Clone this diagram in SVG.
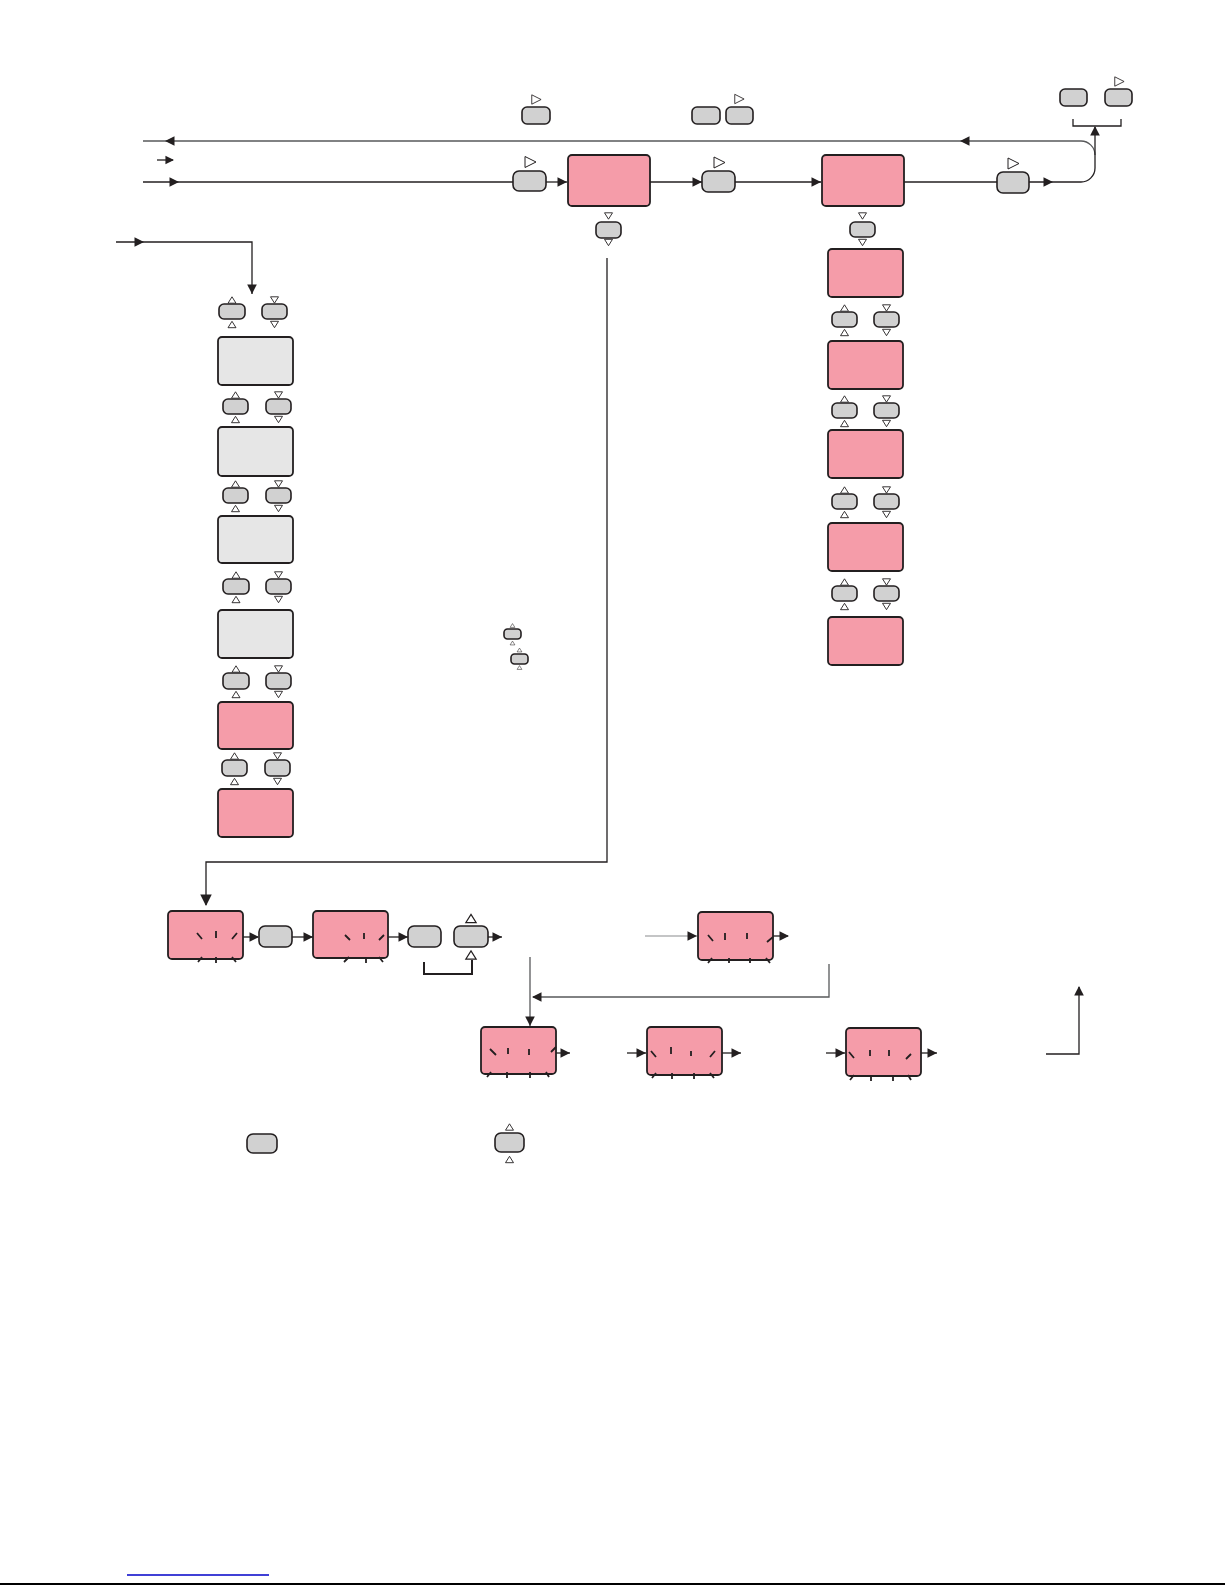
<svg xmlns="http://www.w3.org/2000/svg" xmlns:xlink="http://www.w3.org/1999/xlink" width="1225" height="1585" viewBox="0 0 1225 1585">
<style>
.pk{fill:#f59ca9;stroke:#231f20;stroke-width:1.8}
.gy{fill:#e6e6e6;stroke:#231f20;stroke-width:1.8}
.bt{fill:#d1d1d1;stroke:#231f20;stroke-width:1.6}
.ln{fill:none;stroke:#231f20;stroke-width:1.3}
.lg{fill:none;stroke:#58595b;stroke-width:1.3}
.lt{fill:none;stroke:#8a8b8d;stroke-width:1.2}
.tk{fill:none;stroke:#231f20;stroke-width:1.8}
.br{fill:none;stroke:#231f20;stroke-width:2}
</style>
<defs>
<path id="tu" d="M0,-3.2 L4,3.2 L-4,3.2 Z" fill="#fff" stroke="#231f20" stroke-width="0.9"/>
<path id="td" d="M-4,-3.2 L4,-3.2 L0,3.2 Z" fill="#fff" stroke="#231f20" stroke-width="0.9"/>
<path id="tr" d="M-5,-5.5 L6,0 L-5,5.5 Z" fill="#fff" stroke="#231f20" stroke-width="1"/>
<path id="ah" d="M0,0 L-9.5,-4.8 L-9.5,4.8 Z" fill="#231f20"/>
</defs>

<g id="connectors">
  <path class="lg" d="M143,141 H1081 A14,14 0 0 1 1095,155"/>
  <path class="ln" d="M1029,182 H1081 A14,14 0 0 0 1095,168 V127"/>
  <path class="ln" d="M143,182 H513"/>
  <path class="ln" d="M546,182 H567"/>
  <path class="ln" d="M650,182 H702"/>
  <path class="ln" d="M735,182 H821"/>
  <path class="ln" d="M904,182 H997"/>
  <path class="ln" d="M157,160 H173"/>
  <path class="ln" d="M116,242 H252 V294"/>
  <path class="ln" d="M607,258 V862 H206 V905"/>
  <path class="ln" d="M1073,119 V126 H1121 V119"/>
  <path class="br" d="M424,962 V974 H472 V960"/>
  <path class="ln" d="M243,937 H258"/>
  <path class="ln" d="M292,937 H313"/>
  <path class="ln" d="M388,937 H408"/>
  <path class="ln" d="M488,937 H502"/>
  <path class="lt" d="M645,936 H697"/>
  <path class="ln" d="M773,936 H788"/>
  <path class="lg" d="M829,964 V997 H533"/>
  <path class="lg" d="M530,957 V1026"/>
  <path class="ln" d="M556,1053 H570"/>
  <path class="ln" d="M627,1053 H646"/>
  <path class="ln" d="M722,1053 H741"/>
  <path class="ln" d="M826,1053 H845"/>
  <path class="ln" d="M921,1053 H937"/>
  <path class="ln" d="M1046,1054 H1079 V987"/>
  <use xlink:href="#ah" transform="translate(165,141) rotate(180)"/>
  <use xlink:href="#ah" transform="translate(960,141) rotate(180)"/>
  <use xlink:href="#ah" transform="translate(1095,126) rotate(-90)"/>
  <use xlink:href="#ah" transform="translate(1053,182)"/>
  <use xlink:href="#ah" transform="translate(179,182)"/>
  <use xlink:href="#ah" transform="translate(174,160) scale(0.9)"/>
  <use xlink:href="#ah" transform="translate(567,182)"/>
  <use xlink:href="#ah" transform="translate(702,182)"/>
  <use xlink:href="#ah" transform="translate(821,182)"/>
  <use xlink:href="#ah" transform="translate(144,242)"/>
  <use xlink:href="#ah" transform="translate(252,294) rotate(90)"/>
  <use xlink:href="#ah" transform="translate(206,906) rotate(90) scale(1.2)"/>
  <use xlink:href="#ah" transform="translate(259,937)"/>
  <use xlink:href="#ah" transform="translate(313,937)"/>
  <use xlink:href="#ah" transform="translate(408,937)"/>
  <use xlink:href="#ah" transform="translate(502,937)"/>
  <use xlink:href="#ah" transform="translate(697,936)"/>
  <use xlink:href="#ah" transform="translate(789,936)"/>
  <use xlink:href="#ah" transform="translate(532,997) rotate(180)"/>
  <use xlink:href="#ah" transform="translate(530,1026) rotate(90)"/>
  <use xlink:href="#ah" transform="translate(570,1053)"/>
  <use xlink:href="#ah" transform="translate(646,1053)"/>
  <use xlink:href="#ah" transform="translate(741,1053)"/>
  <use xlink:href="#ah" transform="translate(845,1053)"/>
  <use xlink:href="#ah" transform="translate(937,1053)"/>
  <use xlink:href="#ah" transform="translate(1079,986) rotate(-90)"/>
</g>

<!-- top row buttons -->
<g id="btn-top1"><rect class="bt" x="522" y="107" width="28" height="17" rx="5"/><use xlink:href="#tr" transform="translate(536,99.5) scale(0.85)"/></g>
<g id="btn-top2"><rect class="bt" x="692" y="107" width="28" height="17" rx="5"/><rect class="bt" x="726" y="107" width="27" height="17" rx="5"/><use xlink:href="#tr" transform="translate(739,99) scale(0.85)"/></g>
<g id="btn-top3"><rect class="bt" x="1060" y="89" width="27" height="17" rx="5"/><rect class="bt" x="1105" y="89" width="27" height="17" rx="5"/><use xlink:href="#tr" transform="translate(1119,81.5) scale(0.85)"/></g>

<!-- main row -->
<g id="btn-m1"><rect class="bt" x="513" y="171" width="33" height="20" rx="6"/><use xlink:href="#tr" transform="translate(530,162)"/></g>
<g id="box-m1"><rect class="pk" x="568" y="155" width="82" height="51" rx="4"/></g>
<g id="btn-m2"><rect class="bt" x="702" y="171" width="33" height="21" rx="6"/><use xlink:href="#tr" transform="translate(719,162.5)"/></g>
<g id="box-m2"><rect class="pk" x="822" y="155" width="82" height="51" rx="4"/></g>
<g id="btn-m3"><rect class="bt" x="997" y="172" width="32" height="21" rx="6"/><use xlink:href="#tr" transform="translate(1013,163.5)"/></g>
<g id="btn-d1"><rect class="bt" x="596" y="222" width="25" height="16" rx="5"/><use xlink:href="#td" transform="translate(608.5,216)"/><use xlink:href="#td" transform="translate(608.5,242.5)"/></g>
<g id="btn-d2"><rect class="bt" x="850" y="222" width="25" height="15" rx="5"/><use xlink:href="#td" transform="translate(862.5,216)"/><use xlink:href="#td" transform="translate(862.5,242.5)"/></g>

<!-- left column -->
<g id="lp1"><rect class="bt" x="219" y="304" width="26" height="15" rx="5"/><rect class="bt" x="262" y="304" width="25" height="15" rx="5"/><use xlink:href="#tu" transform="translate(232,300)"/><use xlink:href="#tu" transform="translate(232,324.5)"/><use xlink:href="#td" transform="translate(274.5,300)"/><use xlink:href="#td" transform="translate(274.5,324.5)"/></g>
<g id="lb1"><rect class="gy" x="218" y="337" width="75" height="48" rx="4"/></g>
<g id="lp2"><rect class="bt" x="223" y="399" width="25" height="15" rx="5"/><rect class="bt" x="266" y="399" width="25" height="15" rx="5"/><use xlink:href="#tu" transform="translate(235.5,395)"/><use xlink:href="#tu" transform="translate(235.5,419.5)"/><use xlink:href="#td" transform="translate(278.5,395)"/><use xlink:href="#td" transform="translate(278.5,419.5)"/></g>
<g id="lb2"><rect class="gy" x="218" y="427" width="75" height="49" rx="4"/></g>
<g id="lp3"><rect class="bt" x="223" y="488" width="25" height="15" rx="5"/><rect class="bt" x="266" y="488" width="25" height="15" rx="5"/><use xlink:href="#tu" transform="translate(235.5,484)"/><use xlink:href="#tu" transform="translate(235.5,508.5)"/><use xlink:href="#td" transform="translate(278.5,484)"/><use xlink:href="#td" transform="translate(278.5,508.5)"/></g>
<g id="lb3"><rect class="gy" x="218" y="516" width="75" height="47" rx="4"/></g>
<g id="lp4"><rect class="bt" x="223" y="579" width="26" height="15" rx="5"/><rect class="bt" x="266" y="579" width="25" height="15" rx="5"/><use xlink:href="#tu" transform="translate(236,575)"/><use xlink:href="#tu" transform="translate(236,599.5)"/><use xlink:href="#td" transform="translate(278.5,575)"/><use xlink:href="#td" transform="translate(278.5,599.5)"/></g>
<g id="lb4"><rect class="gy" x="218" y="610" width="75" height="48" rx="4"/></g>
<g id="lp5"><rect class="bt" x="223" y="673" width="26" height="16" rx="5"/><rect class="bt" x="266" y="673" width="25" height="16" rx="5"/><use xlink:href="#tu" transform="translate(236,669)"/><use xlink:href="#tu" transform="translate(236,694.5)"/><use xlink:href="#td" transform="translate(278.5,669)"/><use xlink:href="#td" transform="translate(278.5,694.5)"/></g>
<g id="lb5"><rect class="pk" x="218" y="702" width="75" height="47" rx="4"/></g>
<g id="lp6"><rect class="bt" x="222" y="760" width="25" height="16" rx="5"/><rect class="bt" x="265" y="760" width="25" height="16" rx="5"/><use xlink:href="#tu" transform="translate(234.5,756)"/><use xlink:href="#tu" transform="translate(234.5,781.5)"/><use xlink:href="#td" transform="translate(277.5,756)"/><use xlink:href="#td" transform="translate(277.5,781.5)"/></g>
<g id="lb6"><rect class="pk" x="218" y="789" width="75" height="48" rx="4"/></g>

<!-- tiny buttons -->
<g id="tiny1"><rect class="bt" x="504" y="629" width="17" height="10" rx="3.5" stroke-width="1.1"/><use xlink:href="#tu" transform="translate(512.5,625.5) scale(0.6)"/><use xlink:href="#tu" transform="translate(512.5,643) scale(0.6)"/></g>
<g id="tiny2"><rect class="bt" x="511" y="654" width="17" height="10" rx="3.5" stroke-width="1.1"/><use xlink:href="#tu" transform="translate(519.5,650) scale(0.6)"/><use xlink:href="#tu" transform="translate(519.5,667.5) scale(0.6)"/></g>

<!-- right column -->
<g id="rb1"><rect class="pk" x="828" y="249" width="75" height="48" rx="4"/></g>
<g id="rp1"><rect class="bt" x="832" y="312" width="25" height="15" rx="5"/><rect class="bt" x="874" y="312" width="25" height="15" rx="5"/><use xlink:href="#tu" transform="translate(844.5,308)"/><use xlink:href="#tu" transform="translate(844.5,332.5)"/><use xlink:href="#td" transform="translate(886.5,308)"/><use xlink:href="#td" transform="translate(886.5,332.5)"/></g>
<g id="rb2"><rect class="pk" x="828" y="341" width="75" height="48" rx="4"/></g>
<g id="rp2"><rect class="bt" x="832" y="403" width="25" height="15" rx="5"/><rect class="bt" x="874" y="403" width="25" height="15" rx="5"/><use xlink:href="#tu" transform="translate(844.5,399)"/><use xlink:href="#tu" transform="translate(844.5,423.5)"/><use xlink:href="#td" transform="translate(886.5,399)"/><use xlink:href="#td" transform="translate(886.5,423.5)"/></g>
<g id="rb3"><rect class="pk" x="828" y="430" width="75" height="48" rx="4"/></g>
<g id="rp3"><rect class="bt" x="832" y="494" width="25" height="15" rx="5"/><rect class="bt" x="874" y="494" width="25" height="15" rx="5"/><use xlink:href="#tu" transform="translate(844.5,490)"/><use xlink:href="#tu" transform="translate(844.5,514.5)"/><use xlink:href="#td" transform="translate(886.5,490)"/><use xlink:href="#td" transform="translate(886.5,514.5)"/></g>
<g id="rb4"><rect class="pk" x="828" y="523" width="75" height="48" rx="4"/></g>
<g id="rp4"><rect class="bt" x="832" y="586" width="25" height="15" rx="5"/><rect class="bt" x="874" y="586" width="25" height="15" rx="5"/><use xlink:href="#tu" transform="translate(844.5,582)"/><use xlink:href="#tu" transform="translate(844.5,606.5)"/><use xlink:href="#td" transform="translate(886.5,582)"/><use xlink:href="#td" transform="translate(886.5,606.5)"/></g>
<g id="rb5"><rect class="pk" x="828" y="617" width="75" height="48" rx="4"/></g>

<!-- bottom flow -->
<g id="ba"><rect class="pk" x="168" y="911" width="75" height="48" rx="4"/>
<path class="tk" d="M197,933 L202,939 M216,931 V938 M237,933 L232,939 M202,957 L198,962 M216,957 V963 M232,957 L236,962"/></g>
<g id="bb"><rect class="bt" x="259" y="926" width="33" height="21" rx="6"/></g>
<g id="bc"><rect class="pk" x="313" y="911" width="75" height="47" rx="4"/>
<path class="tk" d="M345,935 L350,940 M364,933 V939 M384,935 L379,940 M349,957 L344,962 M366,957 V963 M379,957 L383,962"/></g>
<g id="bd"><rect class="bt" x="408" y="926" width="33" height="21" rx="6"/></g>
<g id="be"><rect class="bt" x="454" y="926" width="34" height="21" rx="6"/><use xlink:href="#tu" transform="translate(471,918.5) scale(1.3)"/><use xlink:href="#tu" transform="translate(471,955) scale(1.3)"/></g>
<g id="bf"><rect class="pk" x="698" y="912" width="75" height="48" rx="4"/>
<path class="tk" d="M708,935 L713,941 M725,933 V940 M747,933 V939 M773,937 L767,942 M712,958 L708,963 M729,958 V963 M750,958 V963 M766,958 L770,963"/></g>
<g id="bg"><rect class="pk" x="481" y="1027" width="75" height="47" rx="4"/>
<path class="tk" d="M490,1049 L496,1055 M508,1048 V1054 M529,1049 V1055 M556,1047 L551,1052 M491,1072 L487,1077 M507,1072 V1078 M530,1072 V1078 M546,1072 L549,1077"/></g>
<g id="bh"><rect class="pk" x="647" y="1027" width="75" height="48" rx="4"/>
<path class="tk" d="M651,1051 L656,1057 M671,1047 V1054 M691,1051 V1056 M715,1051 L710,1057 M656,1073 L652,1078 M672,1073 V1079 M694,1073 V1079 M710,1073 L714,1078"/></g>
<g id="bi"><rect class="pk" x="846" y="1028" width="75" height="48" rx="4"/>
<path class="tk" d="M849,1052 L854,1058 M870,1050 V1056 M889,1050 V1056 M911,1054 L906,1059 M854,1075 L850,1080 M871,1075 V1081 M893,1075 V1081 M908,1075 L911,1080"/></g>

<!-- legend buttons -->
<g id="lg1"><rect class="bt" x="247" y="1134" width="30" height="19" rx="6"/></g>
<g id="lg2"><rect class="bt" x="495" y="1133" width="29" height="19" rx="6"/><use xlink:href="#tu" transform="translate(509.5,1127)"/><use xlink:href="#tu" transform="translate(509.5,1159.5)"/></g>

<!-- page footer -->
<line x1="127" y1="1575" x2="269" y2="1575" stroke="#0000c8" stroke-width="1.4"/>
<line x1="0" y1="1584" x2="1225" y2="1584" stroke="#000" stroke-width="2"/>
</svg>
